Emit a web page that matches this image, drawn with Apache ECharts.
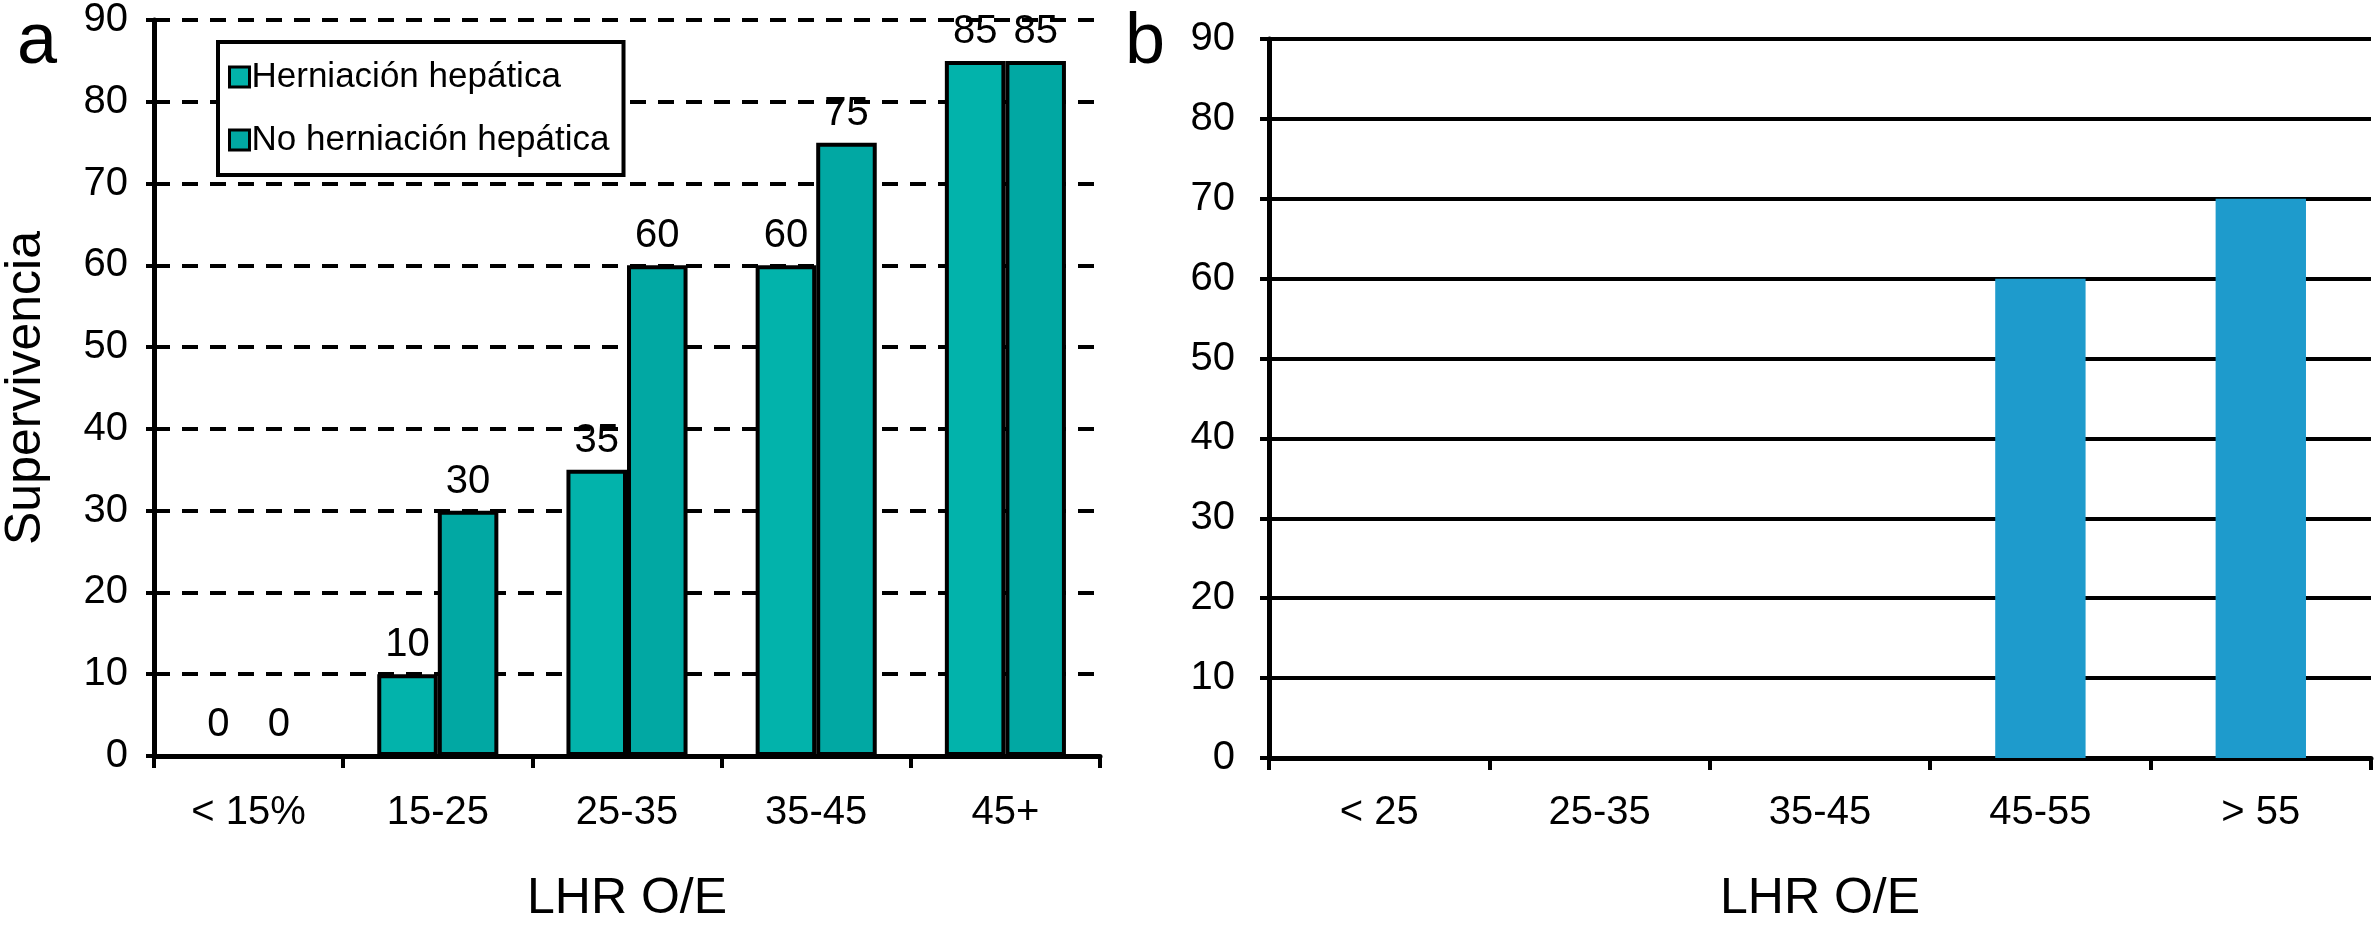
<!DOCTYPE html>
<html>
<head>
<meta charset="utf-8">
<script src="https://cdn.jsdelivr.net/npm/echarts@6/dist/echarts.min.js"></script>
<style>
html,body{margin:0;padding:0;background:#fff;}
#chart{width:2374px;height:938px;}
</style>
</head>
<body>
<div id="chart"></div>
<script>
// ---- data ----
const categoriesA = ['< 15%', '15-25', '25-35', '35-45', '45+'];
const herniacion = [0, 10, 35, 60, 85];
const noHerniacion = [0, 30, 60, 75, 85];
const categoriesB = ['< 25', '25-35', '35-45', '45-55', '> 55'];
const supervivenciaB = [0, 0, 0, 60, 70];
const yTicks = [0, 10, 20, 30, 40, 50, 60, 70, 80, 90];
const seriesNames = ['Herniación hepática', 'No herniación hepática'];

const FONT = '"Liberation Sans", Arial, Helvetica, sans-serif';
const chart = echarts.init(document.getElementById('chart'), null, {renderer: 'canvas'});

const yMin = yTicks[0], yMax = yTicks[yTicks.length - 1], yStep = yTicks[1] - yTicks[0];

const option = {
  backgroundColor: '#ffffff',
  animation: false,
  textStyle: {fontFamily: FONT, color: '#000'},
  graphic: [
    {type: 'text', x: 37, y: 43, style: {text: 'a', font: '72px ' + FONT, fill: '#000', align: 'center', verticalAlign: 'middle'}},
    {type: 'text', x: 1145, y: 43, style: {text: 'b', font: '72px ' + FONT, fill: '#000', align: 'center', verticalAlign: 'middle'}}
  ],
  legend: {
    orient: 'vertical',
    left: 218, top: 42,
    data: seriesNames,
    backgroundColor: '#fff',
    borderColor: '#000',
    borderWidth: 4,
    borderRadius: 0,
    padding: [17, 14, 17, 10],
    itemGap: 27,
    itemWidth: 20,
    itemHeight: 20,
    icon: 'rect',
    itemStyle: {borderColor: '#000', borderWidth: 3},
    textStyle: {fontFamily: FONT, fontSize: 35, color: '#000', lineHeight: 36, padding: [0, 0, 0, -3]}
  },
  grid: [
    {left: 154, top: 17, width: 946, height: 739},
    {left: 1269, top: 39, width: 1102, height: 719}
  ],
  xAxis: [
    {
      type: 'category', gridIndex: 0, data: categoriesA,
      name: 'LHR O/E', nameLocation: 'middle', nameGap: 118,
      nameTextStyle: {fontFamily: FONT, fontSize: 50, color: '#000'},
      axisLine: {show: true, lineStyle: {color: '#000', width: 5}},
      axisTick: {show: true, length: 12, lineStyle: {color: '#000', width: 4}},
      axisLabel: {fontFamily: FONT, fontSize: 40, color: '#000', margin: 37, interval: 0},
      splitLine: {show: false}
    },
    {
      type: 'category', gridIndex: 1, data: categoriesB,
      name: 'LHR O/E', nameLocation: 'middle', nameGap: 116,
      nameTextStyle: {fontFamily: FONT, fontSize: 50, color: '#000'},
      axisLine: {show: true, lineStyle: {color: '#000', width: 5}},
      axisTick: {show: true, length: 12, lineStyle: {color: '#000', width: 4}},
      axisLabel: {fontFamily: FONT, fontSize: 40, color: '#000', margin: 35, interval: 0},
      splitLine: {show: false}
    }
  ],
  yAxis: [
    {
      type: 'value', gridIndex: 0, min: yMin, max: yMax, interval: yStep,
      name: 'Supervivencia', nameLocation: 'middle', nameGap: 103, nameRotate: 90,
      nameTextStyle: {fontFamily: FONT, fontSize: 50, color: '#000'},
      axisLine: {show: true, lineStyle: {color: '#000', width: 5}},
      axisTick: {show: true, length: 8, lineStyle: {color: '#000', width: 4}},
      axisLabel: {fontFamily: FONT, fontSize: 40, color: '#000', margin: 26},
      splitLine: {show: true, lineStyle: {color: '#000', width: 4, type: [16, 12]}}
    },
    {
      type: 'value', gridIndex: 1, min: yMin, max: yMax, interval: yStep,
      axisLine: {show: true, lineStyle: {color: '#000', width: 5}},
      axisTick: {show: true, length: 9, lineStyle: {color: '#000', width: 4}},
      axisLabel: {fontFamily: FONT, fontSize: 40, color: '#000', margin: 34},
      splitLine: {show: true, lineStyle: {color: '#000', width: 4, type: 'solid'}}
    }
  ],
  series: [
    {
      name: seriesNames[0], type: 'bar', xAxisIndex: 0, yAxisIndex: 0,
      data: herniacion, barGap: '0%', barCategoryGap: '36%',
      itemStyle: {color: '#02b3ab', borderColor: '#000', borderWidth: 4},
      label: {show: true, position: 'top', distance: 9, fontFamily: FONT, fontSize: 40, color: '#000'}
    },
    {
      name: seriesNames[1], type: 'bar', xAxisIndex: 0, yAxisIndex: 0,
      data: noHerniacion, barGap: '0%', barCategoryGap: '36%',
      itemStyle: {color: '#01a8a3', borderColor: '#000', borderWidth: 4},
      label: {show: true, position: 'top', distance: 9, fontFamily: FONT, fontSize: 40, color: '#000'}
    },
    {
      name: 'b', type: 'bar', xAxisIndex: 1, yAxisIndex: 1,
      data: supervivenciaB, barCategoryGap: '59%',
      itemStyle: {color: '#1e9bcc'},
      label: {show: false}
    }
  ]
};
chart.setOption(option);
</script>
</body>
</html>
